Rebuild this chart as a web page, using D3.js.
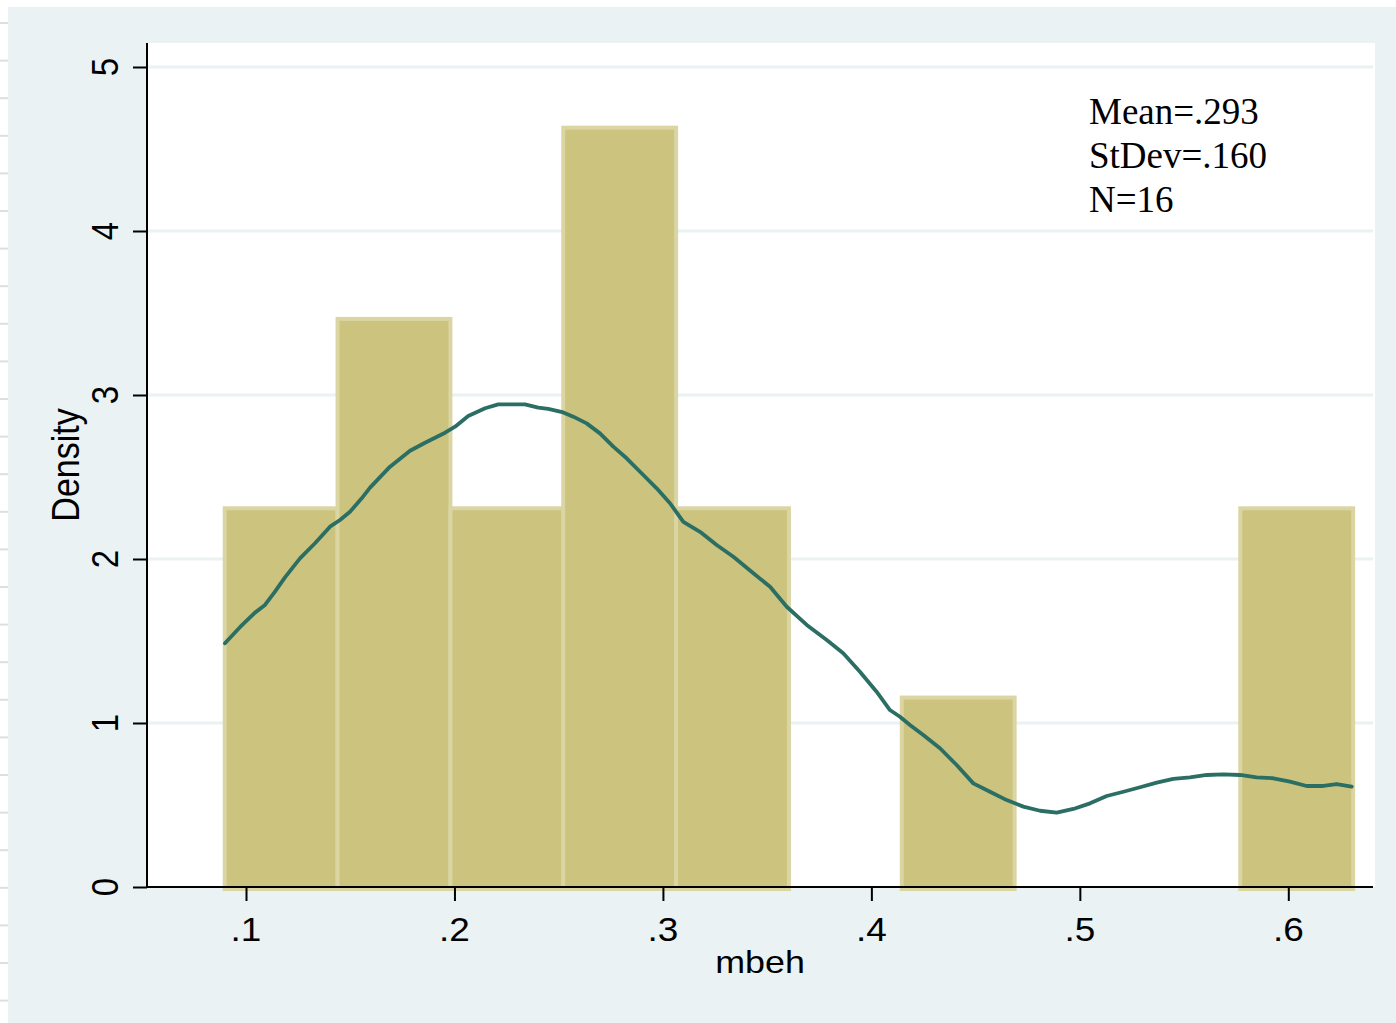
<!DOCTYPE html>
<html>
<head>
<meta charset="utf-8">
<script src="https://cdn.jsdelivr.net/npm/d3@7"></script>
<style>
  html, body { margin: 0; padding: 0; background: #ffffff; }
  svg { display: block; }
</style>
</head>
<body>
<svg id="chart" width="1396" height="1023"></svg>
<script>
// ---------------- data ----------------
const binStart = 0.0898;
const binWidth = 0.05413;
const barDensity = [2.309, 3.464, 2.309, 4.630, 2.309, 0, 1.155, 0, 0, 2.309];

const kdeX = [0.0899, 0.0971, 0.1043, 0.1091, 0.1139, 0.1187, 0.1259, 0.1331, 0.1403, 0.1451,
  0.1499, 0.1555, 0.1595, 0.1691, 0.1787, 0.1859, 0.1955, 0.2003, 0.2066, 0.2147,
  0.2210, 0.2338, 0.2402, 0.2450, 0.2522, 0.2570, 0.2634, 0.2698, 0.2762, 0.2826,
  0.2906, 0.2970, 0.3034, 0.3098, 0.3178, 0.3258, 0.3338, 0.3434, 0.3514, 0.3594,
  0.3690, 0.3786, 0.3865, 0.3945, 0.4025, 0.4089, 0.4137, 0.4185, 0.4249, 0.4329,
  0.4409, 0.4489, 0.4569, 0.4649, 0.4729, 0.4809, 0.4889, 0.4969, 0.5049, 0.5129,
  0.5209, 0.5289, 0.5369, 0.5448, 0.5528, 0.5609, 0.5688, 0.5768, 0.5848, 0.5928,
  0.6008, 0.6088, 0.6168, 0.6232, 0.6304];
const kdeY = [1.486, 1.584, 1.673, 1.720, 1.801, 1.888, 2.004, 2.096, 2.197, 2.238,
  2.288, 2.370, 2.435, 2.563, 2.660, 2.709, 2.770, 2.807, 2.872, 2.919,
  2.943, 2.943, 2.923, 2.915, 2.894, 2.868, 2.827, 2.766, 2.685, 2.614,
  2.512, 2.431, 2.340, 2.227, 2.166, 2.085, 2.014, 1.913, 1.831, 1.709,
  1.598, 1.506, 1.425, 1.313, 1.191, 1.079, 1.038, 0.988, 0.927, 0.846,
  0.744, 0.632, 0.581, 0.530, 0.490, 0.465, 0.453, 0.476, 0.510, 0.555,
  0.581, 0.608, 0.636, 0.659, 0.669, 0.683, 0.687, 0.683, 0.669, 0.663,
  0.642, 0.616, 0.616, 0.628, 0.612];

const xTicks = [0.1, 0.2, 0.3, 0.4, 0.5, 0.6];
const xTickLabels = [".1", ".2", ".3", ".4", ".5", ".6"];
const yTicks = [0, 1, 2, 3, 4, 5];
const yTickLabels = ["0", "1", "2", "3", "4", "5"];
const xTitle = "mbeh";
const yTitle = "Density";
const noteLines = ["Mean=.293", "StDev=.160", "N=16"];

// ---------------- layout ----------------
const W = 1396, H = 1023;
const plot = { left: 147, top: 43, right: 1375, bottom: 887 };
const bgColor = "#eaf2f3";
const barFill = "#cbc37e";
const barStroke = "#dad5a3";
const lineColor = "#2b6e63";
const sansFont = "'Liberation Sans', Arial, Helvetica, sans-serif";
const serifFont = "'Liberation Serif', 'Times New Roman', serif";
const sx = 1.12; // horizontal stretch of the original raster text

const svg = d3.select("#chart");

// page artefacts on the left strip
svg.append("g").selectAll("line")
  .data(d3.range(27).map(k => 23 + 37.6 * k))
  .join("line")
  .attr("x1", 0).attr("x2", 8).attr("y1", d => d).attr("y2", d => d)
  .attr("stroke", "#dedede").attr("stroke-width", 2);

// outer background
svg.append("rect").attr("x", 8).attr("y", 7).attr("width", W - 8).attr("height", H - 7)
  .attr("fill", bgColor);

// plot region
svg.append("rect")
  .attr("x", plot.left).attr("y", plot.top)
  .attr("width", plot.right - plot.left).attr("height", plot.bottom - plot.top)
  .attr("fill", "#ffffff");

const x = d3.scaleLinear().domain([0.1, 0.6]).range([246, 1288.3]);
const y = d3.scaleLinear().domain([0, 5]).range([887, 67]);

// grid lines
svg.append("g").selectAll("line")
  .data(yTicks.filter(d => d > 0))
  .join("line")
  .attr("x1", plot.left).attr("x2", plot.right - 2)
  .attr("y1", d => y(d)).attr("y2", d => y(d))
  .attr("stroke", bgColor).attr("stroke-width", 3);

// histogram bars
const bars = barDensity.map((d, i) => ({
  x0: binStart + i * binWidth, x1: binStart + (i + 1) * binWidth, d
})).filter(b => b.d > 0);

svg.append("g").selectAll("rect")
  .data(bars)
  .join("rect")
  .attr("x", b => x(b.x0))
  .attr("y", b => y(b.d))
  .attr("width", b => x(b.x1) - x(b.x0))
  .attr("height", b => y(0) - y(b.d) + 2)
  .attr("fill", barFill)
  .attr("stroke", barStroke)
  .attr("stroke-width", 4);

// kernel density line
const line = d3.line().x(d => x(d[0])).y(d => y(d[1])).curve(d3.curveLinear);
svg.append("path")
  .datum(kdeX.map((v, i) => [v, kdeY[i]]))
  .attr("d", line)
  .attr("fill", "none")
  .attr("stroke", lineColor)
  .attr("stroke-width", 3.8)
  .attr("stroke-linejoin", "round")
  .attr("stroke-linecap", "round");

// axes
const xAxis = d3.axisBottom(x).tickValues(xTicks).tickSize(14).tickSizeOuter(0).tickFormat("");
const gx = svg.append("g").attr("transform", `translate(0,${plot.bottom})`).call(xAxis);
gx.select(".domain").remove();
gx.selectAll(".tick line").attr("stroke", "#000").attr("stroke-width", 2);

const yAxis = d3.axisLeft(y).tickValues(yTicks).tickSize(14).tickSizeOuter(0).tickFormat("");
const gy = svg.append("g").attr("transform", `translate(${plot.left},0)`).call(yAxis);
gy.select(".domain").remove();
gy.selectAll(".tick line").attr("stroke", "#000").attr("stroke-width", 2);

svg.append("line").attr("x1", plot.left).attr("x2", plot.right - 2)
  .attr("y1", plot.bottom).attr("y2", plot.bottom)
  .attr("stroke", "#000").attr("stroke-width", 2);
svg.append("line").attr("x1", plot.left).attr("x2", plot.left)
  .attr("y1", plot.top).attr("y2", plot.bottom + 1)
  .attr("stroke", "#000").attr("stroke-width", 2);

// x tick labels
svg.append("g").selectAll("text")
  .data(xTicks)
  .join("text")
  .attr("transform", d => `translate(${x(d)},941) scale(${sx},1)`)
  .attr("text-anchor", "middle")
  .attr("font-family", sansFont).attr("font-size", 33).attr("fill", "#000")
  .text((d, i) => xTickLabels[i]);

// y tick labels (rotated)
svg.append("g").selectAll("text")
  .data(yTicks)
  .join("text")
  .attr("transform", d => `translate(118,${y(d)}) scale(${sx},1) rotate(-90)`)
  .attr("text-anchor", "middle")
  .attr("font-family", sansFont).attr("font-size", 33).attr("fill", "#000")
  .text((d, i) => yTickLabels[i]);

// axis titles
svg.append("text")
  .attr("transform", `translate(760,973) scale(${sx},1)`)
  .attr("text-anchor", "middle")
  .attr("font-family", sansFont).attr("font-size", 32).attr("fill", "#000")
  .text(xTitle);

svg.append("text")
  .attr("transform", `translate(79,465) scale(${sx},1) rotate(-90)`)
  .attr("text-anchor", "middle")
  .attr("font-family", sansFont).attr("font-size", 34).attr("fill", "#000")
  .text(yTitle);

// note
svg.append("g").selectAll("text")
  .data(noteLines)
  .join("text")
  .attr("x", 1089)
  .attr("y", (d, i) => 124 + i * 44)
  .attr("font-family", serifFont).attr("font-size", 37).attr("fill", "#000")
  .text(d => d);
</script>
</body>
</html>
